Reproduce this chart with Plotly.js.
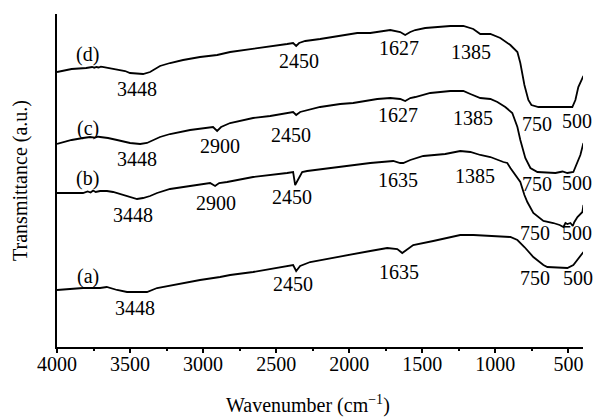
<!DOCTYPE html>
<html>
<head>
<meta charset="utf-8">
<script src="https://cdn.plot.ly/plotly-3.0.1.min.js"></script>
<style>
html,body{margin:0;padding:0;background:#fff;}
#chart{width:597px;height:417px;}
</style>
</head>
<body>
<div id="chart"></div>
<script>
// ---- Data (wavenumber in cm^-1, transmittance in arbitrary units, offset per sample) ----
const wnD = [4000,3900,3800,3780,3760,3745,3730,3715,3700,3680,3651,3589,3534,3500,3448,3411,3363,3295,3226,3137,3021,2904,2815,2658,2500,2425,2384,2363,2343,2301,2199,2062,1945,1856,1767,1719,1651,1617,1582,1548,1480,1377,1308,1219,1151,1103,1034,966,897,849,829,801,774,753,705,616,521,473,452,432,397];
const tD  = [275,278,279,279.5,280,279.3,280,279.5,280.3,279.8,279,278,276,274,273,273,275,281,284,287,290,292,295,298,301,303,304,301,304,306,308,311,314,314,316,317,315,312,315,317,319,320,321,321,318,313,313,309,302,295,284,262,247,242,240,240,240,240,247,260,271];

const wnC = [4000,3900,3822,3774,3740,3720,3705,3651,3589,3500,3431,3384,3295,3226,3089,2986,2932,2904,2877,2815,2658,2541,2425,2384,2363,2336,2199,2062,1973,1808,1719,1651,1617,1582,1548,1445,1308,1219,1171,1103,1034,986,932,884,849,829,795,760,712,589,540,507,466,438,418,397];
const tC  = [203,207,209,210,209.3,210.3,210,209,207,204,203,204,210,213,217,219,220,216,220,224,229,231,234,235,232,235,240,243,244,248,249,248,246,249,250,254,256,256,253,249,248,245,240,234,220,207,189,179,175,174,175.5,174,175,184,192,204];

const wnB = [4000,3900,3822,3790,3770,3753,3735,3705,3658,3616,3569,3500,3452,3411,3363,3315,3226,3089,2952,2918,2890,2836,2658,2425,2384,2370,2349,2322,2288,2082,1856,1699,1651,1630,1582,1493,1343,1240,1171,1103,1034,945,918,897,863,829,801,781,740,671,603,560,534,520,507,486,470,459,438,418,404,397];
const tB  = [154,154,154,155.5,154.5,156.5,155,156,156,155,153,150,148,149,151,154,158,161,164,161,164,165,170,174,175,162,168,175,176,180,184,186,184,184,187,191,193,196,195,192,190,185,184,179,172,165,152,145,134,126,124,122,120,124,123,124,121,125,130,133,135,142];

const wnA = [4000,3900,3822,3705,3660,3589,3521,3448,3384,3315,3137,3021,2884,2815,2658,2425,2384,2363,2336,2267,2082,1993,1856,1740,1671,1637,1603,1562,1425,1240,1150,1055,897,849,801,740,671,644,507,466,432,397];
const tA  = [57,58,59,59,60,57,55,55,55,59,64,67,70,72,75,81,82,76,81,85,90,93,96,99,98,94,98,102,106,112,112,111,110,107,100,90,82,80,79,82,89,95];

// Tick values on the wavenumber axis
const xTicks = [4000,3500,3000,2500,2000,1500,1000,500];
const xTickText = ["4000","3500","3000","2500","2000","1500","1000","500"];

// Peak labels: [text, wavenumber, level]
const peakLabels = [
  ["(d)",3788,293],["3448",3452,258],["2450",2343,286],["1627",1658,299],["1385",1164,295],["750",712,223],["500",438,226],
  ["(c)",3788,219],["3448",3452,188],["2900",2884,201],["2450",2397,212],["1627",1664,232],["1385",1151,229],["750",712,163],["500",438,164],
  ["(b)",3788,169],["3448",3479,132],["2900",2911,144],["2450",2390,150],["1635",1664,167],["1385",1137,171],["750",726,114],["500",438,114],
  ["(a)",3788,71],["3448",3466,39],["2450",2384,63],["1635",1658,75],["750",726,69],["500",431,69]
];

const FONT = "Liberation Serif, Times New Roman, serif";

const lineStyle = {color:'#000', width:1.8};
const traces = [
  {x:wnA, y:tA, name:'(a)'},
  {x:wnB, y:tB, name:'(b)'},
  {x:wnC, y:tC, name:'(c)'},
  {x:wnD, y:tD, name:'(d)'}
].map(t => Object.assign(t, {type:'scatter', mode:'lines', line:lineStyle, showlegend:false, hoverinfo:'skip'}));

const annotations = peakLabels.map(p => ({
  text:p[0], x:p[1], y:p[2], xref:'x', yref:'y',
  showarrow:false, xanchor:'center', yanchor:'middle',
  font:{family:FONT, size:20, color:'#000'}
}));
// x-axis title (placed slightly left of centre, as in the reference)
annotations.push({
  text:'Wavenumber (cm<sup>−1</sup>)', xref:'paper', yref:'paper',
  x:0.478, y:-0.172, xanchor:'center', yanchor:'middle', showarrow:false,
  font:{family:FONT, size:20, color:'#000'}
});

const layout = {
  width:597, height:417,
  margin:{l:57, r:14, t:14, b:70, pad:0},
  paper_bgcolor:'#fff', plot_bgcolor:'#fff',
  font:{family:FONT, size:20, color:'#000'},
  showlegend:false,
  xaxis:{
    range:[4000,400],
    tickvals:xTicks, ticktext:xTickText,
    ticks:'outside', ticklen:4, tickwidth:2, tickcolor:'#000',
    ticklabelstandoff:-6,
    minor:{dtick:250, tick0:0, ticks:'outside', ticklen:2, tickwidth:2, tickcolor:'#000'},
    showline:true, linecolor:'#000', linewidth:2,
    showgrid:false, zeroline:false,
    tickfont:{family:FONT, size:20, color:'#000'}
  },
  yaxis:{
    range:[0,333],
    showline:true, linecolor:'#000', linewidth:2,
    ticks:'', showticklabels:false,
    showgrid:false, zeroline:false,
    title:{text:'Transmittance (a.u.)', font:{family:FONT, size:20, color:'#000'}, standoff:22}
  },
  annotations:annotations
};

Plotly.newPlot('chart', traces, layout, {staticPlot:true, displayModeBar:false});
</script>
</body>
</html>
